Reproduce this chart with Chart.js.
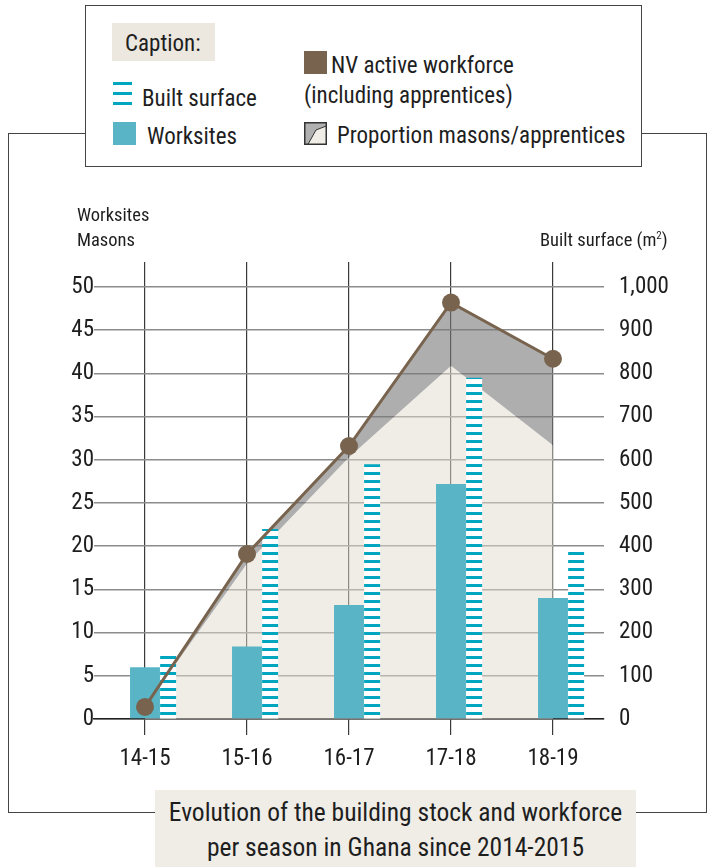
<!DOCTYPE html>
<html>
<head>
<meta charset="utf-8">
<script src="https://cdn.jsdelivr.net/npm/chart.js@4.4.1/dist/chart.umd.min.js"></script>
<style>
  body { margin:0; background:#fff; }
  #page { position:relative; width:715px; height:867px; overflow:hidden; font-family:'Liberation Sans Narrow','Roboto Condensed',Roboto,sans-serif; color:#1e1e1e; }
  #frame { position:absolute; left:8px; top:133px; width:699px; height:680px; border:1.5px solid #444; box-sizing:border-box; }
  #chart { position:absolute; left:0; top:0; }
  #legend { position:absolute; left:85px; top:5px; width:557px; height:162px; border:1.5px solid #444; box-sizing:border-box; background:#fff; }
  .t { position:absolute; white-space:nowrap; font-size:23px; line-height:1; }
  .ax { position:absolute; white-space:nowrap; font-size:18.5px; line-height:1; }
  .capbg { position:absolute; left:112px; top:23px; width:103px; height:38px; background:#ece8e0; }
  .stripe { position:absolute; left:113px; width:19px; height:3px; background:#00a6bf; }
  .sq { position:absolute; width:23px; height:23px; }
  #title { position:absolute; left:155px; top:790px; width:481px; height:80px; background:#f0ede7; box-sizing:border-box; padding-top:5px; text-align:center; font-size:25.5px; line-height:35px; }
</style>
</head>
<body>
<div id="page">
  <div id="frame"></div>
  <canvas id="chart" width="715" height="867"></canvas>

  <div id="legend"></div>
  <div class="capbg"></div>
  <div class="t" style="left:125px;top:32px">Caption:</div>
  <div class="stripe" style="top:82px"></div>
  <div class="stripe" style="top:92px"></div>
  <div class="stripe" style="top:102px"></div>
  <div class="t" style="left:142px;top:87px">Built surface</div>
  <div class="sq" style="left:113px;top:122px;background:#59b4c6"></div>
  <div class="t" style="left:147px;top:125px">Worksites</div>
  <div class="sq" style="left:304px;top:51px;background:#78644e"></div>
  <div class="t" style="left:331px;top:54px">NV active workforce</div>
  <div class="t" style="left:304px;top:84px">(including apprentices)</div>
  <svg class="sq" style="left:304px;top:122px" viewBox="0 0 23 23">
    <rect x="0.75" y="0.75" width="21.5" height="21.5" fill="#f0ede7"/>
    <path d="M0.75 0.75 H22.25 V4 L12 8 L4 22.25 H0.75 Z" fill="#b0b0b0"/>
    <path d="M4 22.25 L12 8 L22.25 4" fill="none" stroke="#333" stroke-width="1"/>
    <rect x="0.75" y="0.75" width="21.5" height="21.5" fill="none" stroke="#333" stroke-width="1.5"/>
  </svg>
  <div class="t" style="left:337px;top:124px">Proportion masons/apprentices</div>

  <div class="ax" style="left:77px;top:206px">Worksites</div>
  <div class="ax" style="left:77px;top:231px">Masons</div>
  <div class="ax" style="left:540px;top:231px">Built surface (m<sup style="font-size:11px;vertical-align:7px;line-height:0">2</sup>)</div>

  <div id="title">Evolution of the building stock and workforce<br>per season in Ghana since 2014-2015</div>
</div>

<script>
// data
const seasons      = ['14-15', '15-16', '16-17', '17-18', '18-19'];
const worksites    = [6.0, 8.4, 13.2, 27.2, 14.0];          // left axis
const builtSurface = [155, 440, 590, 790, 395];             // right axis, m²
const workforce    = [1.4, 19.1, 31.6, 48.2, 41.7];         // NV active workforce
const masons       = [1.4, 18.0, 30.3, 40.9, 31.7];         // masons part of workforce
const leftTicks    = [0, 5, 10, 15, 20, 25, 30, 35, 40, 45, 50];
const rightTicks   = [0, 100, 200, 300, 400, 500, 600, 700, 800, 900, 1000];

const FONT = "'Liberation Sans Narrow','Roboto Condensed',Roboto,sans-serif";
Chart.defaults.font.family = FONT;
Chart.defaults.color = '#1e1e1e';

// striped fill for built surface bars
function stripes() {
  const c = document.createElement('canvas');
  c.width = 16; c.height = 8;
  const g = c.getContext('2d');
  g.fillStyle = '#ffffff'; g.fillRect(0, 0, 16, 8);
  g.fillStyle = '#00a6bf'; g.fillRect(0, 0, 16, 3);
  return g.createPattern(c, 'repeat');
}

const ctx = document.getElementById('chart').getContext('2d');
new Chart(ctx, {
  data: {
    labels: seasons,
    datasets: [
      { type:'line', label:'Masons', data:masons, yAxisID:'y', order:2,
        borderWidth:0, pointRadius:0, tension:0,
        fill:'origin', backgroundColor:'rgba(225,219,207,0.5)' },
      { type:'line', label:'NV active workforce', data:workforce, yAxisID:'y', order:0,
        borderColor:'#78644e', borderWidth:3, tension:0,
        pointRadius:9, pointBackgroundColor:'#78644e', pointBorderWidth:0,
        fill:{ target:'-1', above:'rgba(120,120,120,0.6)', below:'rgba(120,120,120,0.6)' } },
      // empty slot so worksites sits in the middle of each group
      { type:'bar', label:'', data:[], yAxisID:'y', order:1 },
      { type:'bar', label:'Worksites', data:worksites, yAxisID:'y', order:1,
        backgroundColor:'#59b4c6', categoryPercentage:1, barPercentage:0.88 },
      { type:'bar', label:'Built surface', data:builtSurface, yAxisID:'y1', order:1,
        backgroundColor:stripes(), categoryPercentage:0.68, barPercentage:0.69 }
    ]
  },
  options: {
    responsive:false, animation:false,
    layout:{ padding:{ top:262, left:0, right:0, bottom:0 } },
    plugins:{ legend:{ display:false }, tooltip:{ enabled:false }, filler:{ drawTime:'beforeDatasetsDraw' } },
    scales:{
      x:{ type:'category', offset:true,
          grid:{ offset:false, color:'#3a3a3a', lineWidth:1.2, tickLength:16 },
          border:{ display:true, color:'#222', width:1.5 },
          ticks:{ font:{ size:23 }, color:'#1e1e1e', padding:10 },
          afterFit: s => { s.height = 148; } },
      y:{ position:'left', min:0, max:52.9,
          afterBuildTicks: s => { s.ticks = leftTicks.map(v => ({ value:v })); },
          grid:{ color:'#8c8c8c', lineWidth:1.5, drawTicks:false },
          border:{ display:false },
          ticks:{ font:{ size:23 }, color:'#1e1e1e', padding:0 },
          afterFit: s => { s.width = 94; } },
      y1:{ position:'right', min:0, max:1058,
          afterBuildTicks: s => { s.ticks = rightTicks.map(v => ({ value:v })); },
          grid:{ drawOnChartArea:false, drawTicks:false },
          border:{ display:false },
          ticks:{ font:{ size:23 }, color:'#1e1e1e', padding:15,
                  callback: v => v.toLocaleString('en-US') },
          afterFit: s => { s.width = 111; } }
    }
  }
});
</script>
</body>
</html>
